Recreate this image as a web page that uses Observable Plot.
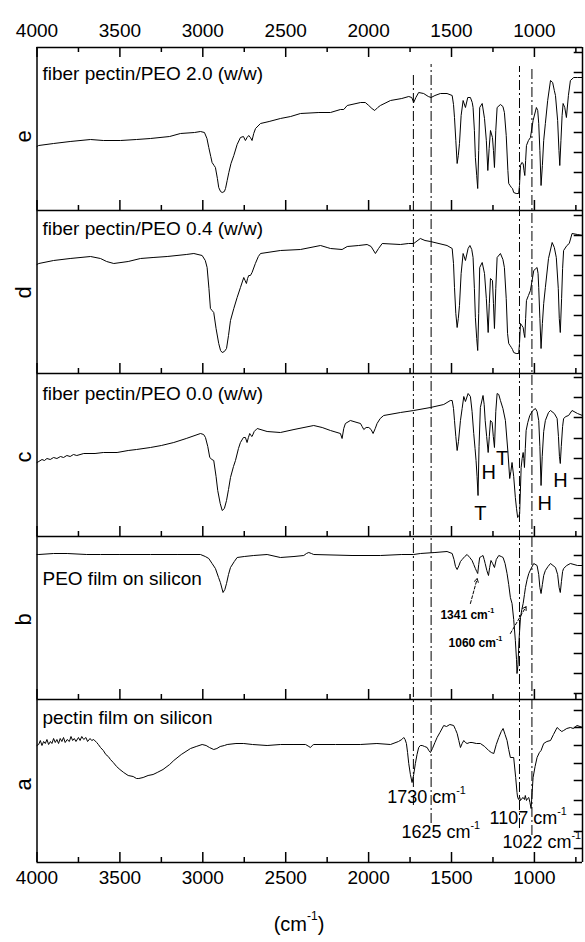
<!DOCTYPE html>
<html>
<head>
<meta charset="utf-8">
<script src="https://cdn.jsdelivr.net/npm/d3@7"></script>
<script src="https://cdn.jsdelivr.net/npm/@observablehq/plot@0.6"></script>
<style>
  html, body { margin: 0; padding: 0; background: #fff; }
  #chart svg { display: block; }
</style>
</head>
<body>
<div id="chart"></div>
<script>
// ---------- DATA (wavenumber cm^-1, relative intensity within each panel) ----------
const panelLetters = ["a", "b", "c", "d", "e"];
const panelNames = [
  "pectin film on silicon",
  "PEO film on silicon",
  "fiber pectin/PEO 0.0 (w/w)",
  "fiber pectin/PEO 0.4 (w/w)",
  "fiber pectin/PEO 2.0 (w/w)"
];
const panelNameLevel = [145, 121, 143, 145, 137];
const panelLetterLevel = [72, 74, 74, 75, 68];

const majorTicks = [4000, 3500, 3000, 2500, 2000, 1500, 1000];
const minorTicks = [3750, 3250, 2750, 2250, 1750, 1250, 750];

const rightTicksA = [152, 135, 117, 99, 82, 62, 48, 31, 14];
const rightTicksB = [144, 124, 104, 86, 66, 46, 26, 6];
const rightTicksC = [159, 139, 119, 98, 78, 58, 38, 18];
const rightTicksD = [158, 138, 118, 98, 78, 58, 38, 18];
const rightTicksE = [158, 138, 118, 98, 78, 58, 38, 18];

const markerLines = [1730, 1623, 1090, 1015];
const markerTop = [789, 798, 796, 796];
const markerBottom = [57, 39, 34, 27];

const specA = [
[4000,117],[3990,118],[3980,122],[3970,117],[3960,121],[3950,119],[3940,123],[3930,118],[3919,121],[3910,119],[3900,124],[3890,120],[3880,123],[3870,119],[3860,124],[3850,121],[3840,125],[3830,120],[3818,123],[3805,121],[3795,126],[3785,122],[3775,124],[3765,121],[3750,125],[3740,122],[3730,126],[3718,123],[3705,125],[3695,121],[3680,124],[3670,122],[3658,123],[3640,120],[3630,118],[3617,115],[3600,112],[3585,108],[3570,106],[3557,103],[3540,100],[3520,96],[3500,93],[3477,90],[3450,87],[3420,86],[3400,84],[3386,84],[3360,85],[3330,87],[3300,88],[3275,90],[3240,93],[3200,98],[3175,102],[3130,108],[3074,114],[3040,116],[3004,118],[2980,117],[2960,115],[2934,113],[2915,114],[2895,116],[2870,117],[2853,118],[2800,119],[2753,119],[2700,118],[2612,117],[2532,118],[2450,118],[2380,118],[2360,116],[2351,115],[2340,117],[2331,118],[2200,118],[2050,118],[1950,119],[1868,118],[1820,121],[1800,123],[1788,125],[1780,123],[1772,119],[1765,110],[1758,99],[1748,88],[1738,80],[1728,88],[1718,99],[1708,108],[1698,115],[1688,117],[1677,117],[1662,116],[1647,115],[1637,112],[1627,110],[1615,114],[1600,120],[1587,125],[1570,130],[1547,137],[1530,136],[1510,138],[1487,137],[1476,133],[1466,129],[1456,122],[1446,115],[1436,119],[1426,122],[1416,120],[1406,119],[1390,120],[1376,120],[1350,119],[1326,119],[1300,116],[1276,112],[1260,110],[1245,109],[1230,118],[1215,125],[1200,131],[1189,134],[1177,128],[1165,122],[1155,113],[1145,105],[1135,105],[1125,105],[1113,85],[1105,70],[1101,65],[1095,63],[1090,66],[1084,62],[1076,64],[1068,65],[1060,63],[1055,67],[1048,62],[1041,64],[1034,65],[1027,60],[1020,54],[1014,70],[1008,85],[996,96],[984,105],[970,110],[960,112],[944,119],[925,121],[903,122],[885,128],[863,135],[850,133],[835,131],[824,132],[805,134],[783,135],[765,134],[743,137],[725,136],[710,135]
];

const specB = [
[4000,145],[3989,145],[3900,146],[3818,146],[3700,145],[3617,145],[3500,145],[3316,145],[3150,145],[3014,145],[2985,143],[2964,141],[2944,136],[2924,131],[2905,122],[2894,117],[2878,107],[2867,110],[2857,116],[2845,125],[2833,132],[2810,138],[2793,142],[2750,143],[2693,144],[2612,145],[2532,142],[2450,143],[2391,144],[2375,146],[2361,147],[2345,146],[2331,145],[2100,144],[1929,144],[1800,145],[1728,145],[1688,146],[1600,147],[1527,148],[1496,146],[1485,140],[1476,133],[1466,130],[1455,134],[1446,138],[1436,140],[1420,143],[1406,145],[1390,142],[1376,139],[1366,135],[1356,131],[1348,128],[1342,126],[1336,135],[1330,142],[1320,143],[1310,144],[1303,140],[1297,136],[1287,129],[1277,124],[1270,132],[1262,139],[1252,136],[1241,132],[1230,140],[1215,144],[1200,143],[1189,142],[1177,136],[1165,126],[1155,115],[1145,102],[1135,96],[1125,80],[1115,59],[1108,40],[1105,26],[1099,35],[1093,59],[1084,82],[1076,90],[1068,96],[1060,105],[1054,112],[1044,120],[1034,126],[1020,131],[1004,136],[984,134],[974,125],[967,112],[960,106],[952,115],[944,124],[934,129],[918,133],[903,136],[888,134],[873,132],[860,125],[851,112],[844,107],[837,118],[830,128],[824,131],[805,134],[783,136],[740,134],[710,134]
];

const specC = [
[4000,74],[3989,75],[3970,77],[3955,76],[3940,78],[3920,77],[3900,79],[3880,78],[3858,80],[3840,79],[3820,81],[3800,80],[3780,82],[3760,81],[3718,83],[3650,83],[3600,84],[3517,84],[3450,86],[3400,87],[3316,89],[3250,91],[3175,94],[3100,98],[3014,103],[2995,102],[2984,99],[2970,90],[2958,79],[2945,77],[2934,76],[2920,60],[2910,46],[2895,33],[2883,26],[2870,28],[2857,36],[2845,47],[2833,59],[2815,70],[2803,76],[2785,88],[2773,94],[2755,99],[2743,99],[2733,94],[2725,99],[2717,103],[2710,101],[2703,100],[2690,105],[2672,108],[2612,105],[2532,104],[2450,107],[2331,111],[2280,109],[2230,106],[2170,103],[2160,98],[2150,108],[2140,113],[2110,116],[2070,114],[2049,113],[2039,110],[2029,107],[2015,109],[1999,109],[1985,107],[1973,103],[1960,108],[1949,113],[1930,118],[1909,121],[1808,124],[1728,126],[1627,129],[1547,132],[1507,136],[1496,136],[1488,128],[1482,116],[1474,100],[1466,86],[1458,95],[1446,116],[1436,128],[1426,140],[1416,135],[1400,143],[1386,140],[1376,125],[1366,103],[1358,88],[1352,76],[1346,60],[1340,41],[1334,90],[1326,129],[1310,141],[1303,132],[1297,116],[1288,100],[1279,84],[1272,100],[1265,116],[1255,114],[1248,100],[1241,89],[1233,125],[1225,143],[1215,142],[1205,136],[1190,128],[1175,116],[1160,85],[1149,58],[1142,65],[1135,74],[1125,60],[1115,39],[1108,28],[1101,19],[1095,20],[1089,23],[1080,69],[1074,78],[1068,84],[1064,78],[1060,69],[1055,88],[1050,106],[1040,114],[1028,121],[1010,126],[994,128],[984,125],[974,116],[967,90],[960,51],[953,80],[944,105],[934,116],[915,124],[903,126],[880,123],[863,118],[855,100],[849,80],[844,73],[838,90],[830,110],[824,118],[810,120],[794,121],[773,126],[740,123],[710,121]
];

const specD = [
[4000,109],[3989,110],[3900,113],[3800,115],[3677,117],[3617,115],[3580,112],[3537,110],[3450,112],[3376,115],[3300,116],[3215,117],[3100,119],[3054,120],[3004,118],[2985,113],[2974,106],[2963,85],[2954,65],[2944,63],[2934,61],[2920,45],[2904,30],[2893,23],[2883,21],[2870,22],[2857,25],[2845,38],[2833,53],[2813,65],[2793,76],[2773,86],[2753,96],[2745,93],[2737,90],[2730,95],[2723,98],[2713,98],[2703,101],[2683,110],[2665,117],[2652,120],[2532,123],[2411,124],[2290,128],[2250,126],[2230,125],[2160,124],[2129,127],[2060,128],[2009,129],[1985,127],[1959,120],[1940,125],[1918,130],[1808,129],[1760,130],[1728,130],[1688,135],[1660,133],[1627,132],[1527,128],[1496,125],[1488,110],[1482,86],[1474,60],[1466,46],[1459,55],[1452,68],[1442,100],[1430,120],[1416,113],[1400,125],[1389,128],[1378,124],[1370,116],[1362,85],[1356,56],[1348,35],[1342,23],[1336,60],[1330,106],[1315,111],[1301,100],[1290,75],[1279,41],[1272,70],[1265,95],[1253,93],[1247,70],[1241,45],[1233,85],[1225,116],[1205,120],[1190,114],[1181,106],[1170,75],[1162,40],[1155,30],[1147,28],[1139,26],[1132,24],[1125,21],[1110,20],[1095,20],[1090,30],[1084,50],[1076,48],[1068,46],[1063,40],[1058,36],[1053,55],[1048,73],[1036,78],[1024,83],[1004,103],[984,106],[978,100],[974,86],[967,55],[960,25],[952,50],[944,70],[934,86],[915,115],[893,131],[880,126],[868,116],[856,85],[850,55],[844,41],[836,75],[830,105],[824,123],[804,128],[790,130],[773,140],[740,139],[710,138]
];

const specE = [
[4000,64],[3990,65],[3900,67],[3800,69],[3677,71],[3600,70],[3496,70],[3400,71],[3316,72],[3200,74],[3135,77],[3050,78],[3014,79],[2990,78],[2975,72],[2964,63],[2952,54],[2944,48],[2932,45],[2924,43],[2912,32],[2904,23],[2893,19],[2883,18],[2870,19],[2863,22],[2853,30],[2843,38],[2830,47],[2813,55],[2793,66],[2773,73],[2755,74],[2743,70],[2733,73],[2723,75],[2713,73],[2703,70],[2693,77],[2682,82],[2652,87],[2600,89],[2532,92],[2470,94],[2411,97],[2300,98],[2230,98],[2170,101],[2150,101],[2129,105],[2048,108],[2020,108],[1999,105],[1980,102],[1963,100],[1945,103],[1929,105],[1868,110],[1800,112],[1758,114],[1740,113],[1728,108],[1715,113],[1698,118],[1668,117],[1640,114],[1623,113],[1600,115],[1567,117],[1527,117],[1496,115],[1488,106],[1482,93],[1474,70],[1466,47],[1459,55],[1452,67],[1442,95],[1430,110],[1416,103],[1402,113],[1386,113],[1375,108],[1370,103],[1362,80],[1356,53],[1348,35],[1342,22],[1336,60],[1330,103],[1315,107],[1301,92],[1290,70],[1281,40],[1273,62],[1265,80],[1253,73],[1247,60],[1241,43],[1233,80],[1225,103],[1205,106],[1190,104],[1181,98],[1170,75],[1160,40],[1155,27],[1147,25],[1139,23],[1132,22],[1125,18],[1110,17],[1095,17],[1090,25],[1084,45],[1076,48],[1068,47],[1063,40],[1058,35],[1053,50],[1048,65],[1036,70],[1024,73],[1008,90],[988,103],[980,100],[974,87],[967,60],[960,25],[952,45],[944,70],[934,87],[920,110],[903,130],[890,128],[880,120],[873,115],[860,90],[852,60],[847,45],[840,70],[833,95],[827,107],[817,103],[807,93],[795,115],[783,130],[763,133],[740,133],[710,133]
];

// annotations: [wavenumber, level, text]
const annotA = [[1888, 65, "1730 cm^-1"], [1802, 30, "1625 cm^-1"], [1271, 44, "1107 cm^-1"], [1193, 20, "1022 cm^-1"]];
const annotB = [[1567, 84, "1341 cm^-1"], [1518, 56, "1060 cm^-1"]];
const arrowsB = [[1386, 96, 1345, 121], [1145, 66, 1050, 93]];
const annotC = [[1326, 23, "T"], [1276, 64, "H"], [1195, 78, "T"], [938, 33, "H"], [843, 56, "H"]];

// ---------- BUILD ----------
const PANEL = 163;
const spectra = [specA, specB, specC, specD, specE];
const rightTicks = [rightTicksA, rightTicksB, rightTicksC, rightTicksD, rightTicksE];
const rows = spectra.flatMap((s, i) => s.map(([w, v]) => ({w, y: v + i * PANEL, panel: i})));
const bases = panelLetters.map((_, i) => i * PANEL);
const TOP = panelLetters.length * PANEL;

const tickRows = [];
bases.forEach(b => {
  majorTicks.forEach(w => tickRows.push({w, y1: b, y2: b + 10}));
  minorTicks.forEach(w => tickRows.push({w, y1: b, y2: b + 5}));
});
majorTicks.forEach(w => tickRows.push({w, y1: TOP, y2: TOP - 10}));
minorTicks.forEach(w => tickRows.push({w, y1: TOP, y2: TOP - 5}));

const rTickRows = rightTicks.flatMap((t, i) => t.map(v => ({y: v + i * PANEL})));
const markerRows = markerLines.map((w, i) => ({w, y1: markerBottom[i], y2: markerTop[i]}));
const nameRows = panelNames.map((t, i) => ({t, y: panelNameLevel[i] + i * PANEL}));
const letterRows = panelLetters.map((t, i) => ({t, y: panelLetterLevel[i] + i * PANEL}));
const annARows = annotA.map(([w, v, t]) => ({w, y: v, t}));
const annBRows = annotB.map(([w, v, t]) => ({w, y: v + PANEL, t}));
const arrRows = arrowsB.map(([a, b, c, d]) => ({x1: a, y1: b + PANEL, x2: c, y2: d + PANEL}));
const annCRows = annotC.map(([w, v, t]) => ({w, y: v + 2 * PANEL, t}));

const FONT = "'Liberation Sans', Arial, Helvetica, sans-serif";

const chart = Plot.plot({
  width: 585,
  height: 942,
  marginTop: 47,
  marginBottom: 80,
  marginLeft: 36.5,
  marginRight: 3,
  style: {fontFamily: FONT, background: "#fff", color: "#000"},
  x: {domain: [4000, 710], axis: null},
  y: {domain: [0, TOP], axis: null},
  marks: [
    Plot.ruleX(markerRows, {x: "w", y1: "y1", y2: "y2", stroke: "#000", strokeWidth: 1, strokeDasharray: "10,3,2,3"}),
    Plot.line(rows, {x: "w", y: "y", z: "panel", stroke: "#000", strokeWidth: 1, strokeLinejoin: "round"}),
    Plot.ruleX(tickRows, {x: "w", y1: "y1", y2: "y2", stroke: "#000", strokeWidth: 1.5}),
    Plot.ruleY(rTickRows, {y: "y", x1: 710, x2: 760, stroke: "#000", strokeWidth: 1.5}),
    Plot.ruleY([...bases, TOP], {stroke: "#000", strokeWidth: 1.5}),
    Plot.ruleX([4000, 710], {y1: 0, y2: TOP, stroke: "#000", strokeWidth: 1.5}),
    Plot.text(majorTicks, {x: d => d, frameAnchor: "top", dy: -24, text: d => String(d), fontSize: 19}),
    Plot.text(majorTicks, {x: d => d, frameAnchor: "bottom", dy: 21, text: d => String(d), fontSize: 19}),
    Plot.text(["(cm^-1)"], {x: 2420, frameAnchor: "bottom", dy: 68, text: d => d, fontSize: 20}),
    Plot.text(nameRows, {x: 3967, y: "y", text: "t", textAnchor: "start", fontSize: 19}),
    Plot.text(letterRows, {y: "y", text: "t", frameAnchor: "left", dx: -13, rotate: -90, fontSize: 22}),
    Plot.text(annARows, {x: "w", y: "y", text: "t", textAnchor: "start", fontSize: 18}),
    Plot.text(annBRows, {x: "w", y: "y", text: "t", textAnchor: "start", fontSize: 12, fontWeight: "bold"}),
    Plot.arrow(arrRows, {x1: "x1", y1: "y1", x2: "x2", y2: "y2", stroke: "#000", strokeWidth: 1, strokeDasharray: "3,2", headLength: 6, bend: 0}),
    Plot.text(annCRows, {x: "w", y: "y", text: "t", fontSize: 20})
  ]
});

// superscripts
const NS = "http://www.w3.org/2000/svg";
chart.querySelectorAll("text").forEach(t => {
  const s = t.textContent;
  if (s.includes("^")) {
    const [base, sup] = s.split("^");
    const m = sup.match(/^(-1)(.*)$/);
    t.textContent = base;
    const ts = document.createElementNS(NS, "tspan");
    ts.setAttribute("font-size", "0.6em");
    ts.setAttribute("dy", "-0.9em");
    ts.textContent = m ? m[1] : sup;
    t.appendChild(ts);
    if (m && m[2]) {
      const rest = document.createElementNS(NS, "tspan");
      rest.setAttribute("dy", "0.54em");
      rest.textContent = m[2];
      t.appendChild(rest);
    }
  }
});

document.getElementById("chart").appendChild(chart);
</script>
</body>
</html>
